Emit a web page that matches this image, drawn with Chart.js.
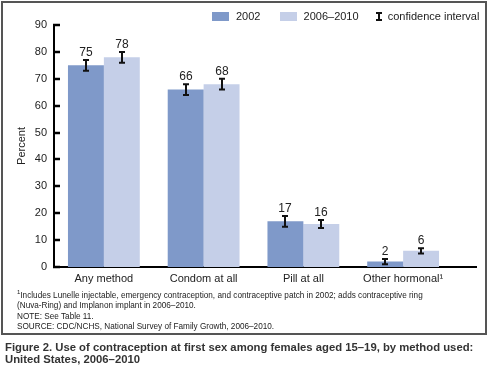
<!DOCTYPE html>
<html>
<head>
<meta charset="utf-8">
<script src="https://cdn.jsdelivr.net/npm/chart.js@4"></script>
<style>
  body { margin: 0; background: #fff; font-family: "Liberation Sans", Arial, sans-serif; color: #222; }
  #wrap { position: relative; width: 487px; height: 371px; }
  #frame { position: absolute; left: 1px; top: 1px; width: 482px; height: 330px; border: 2px solid #555; }
  #chart { position: absolute; left: 0; top: 0; }
  #legend { position: absolute; top: 9px; left: 212px; font-size: 11px; white-space: nowrap; }
  #legend span { display: inline-block; vertical-align: middle; }
  .sw { width: 17px; height: 9px; margin-right: 7px; }
  .ci { width: 2px; height: 9px; background: #111; position: relative; margin: 0 8px 0 4px; }
  .ci:before, .ci:after { content: ""; position: absolute; left: -2px; width: 6px; height: 2px; background: #111; }
  .ci:before { top: 0; } .ci:after { bottom: 0; }
  #notes { position: absolute; left: 17px; top: 287px; font-size: 8.2px; line-height: 10.4px; }
  #caption { position: absolute; left: 5px; top: 341px; font-size: 11.3px; line-height: 12px; font-weight: bold; color: #333; }
</style>
</head>
<body>
<div id="wrap">
  <div id="frame"></div>
  <canvas id="chart" width="487" height="300"></canvas>
  <div id="legend">
    <span class="sw" style="background:#7f99c9"></span><span style="margin-right:16px">2002</span>
    <span class="sw" style="background:#c5cfe8"></span><span style="margin-right:12px">2006–2010</span>
    <span class="ci"></span><span>confidence interval</span>
  </div>
  <div id="notes">
    <sup style="font-size:6px">1</sup>Includes Lunelle injectable, emergency contraception, and contraceptive patch in 2002; adds contraceptive ring<br>
    (Nuva-Ring) and Implanon implant in 2006–2010.<br>
    NOTE: See Table 11.<br>
    SOURCE: CDC/NCHS, National Survey of Family Growth, 2006–2010.
  </div>
  <div id="caption">
    Figure 2. Use of contraception at first sex among females aged 15–19, by method used:<br>
    United States, 2006–2010
  </div>
</div>
<script>
var categories = ['Any method', 'Condom at all', 'Pill at all', 'Other hormonal¹'];
var values2002 = [75, 66, 17, 2];
var values2010 = [78, 68, 16, 6];
var ciLow2002 = [73, 64, 15, 1];
var ciHigh2002 = [77, 68, 19, 3];
var ciLow2010 = [76, 66, 14.5, 5];
var ciHigh2010 = [80, 70, 17.5, 7];
var labels2002 = ['75', '66', '17', '2'];
var labels2010 = ['78', '68', '16', '6'];

var errorBars = {
  id: 'errorBars',
  afterDatasetsDraw: function(chart) {
    var ctx = chart.ctx;
    var y = chart.scales.y;
    var lows = [ciLow2002, ciLow2010];
    var highs = [ciHigh2002, ciHigh2010];
    var texts = [labels2002, labels2010];
    ctx.save();
    chart.data.datasets.forEach(function(ds, d) {
      var meta = chart.getDatasetMeta(d);
      meta.data.forEach(function(bar, i) {
        var x = Math.round(bar.x);
        var top = y.getPixelForValue(highs[d][i]);
        var bot = y.getPixelForValue(lows[d][i]);
        ctx.strokeStyle = '#111';
        ctx.lineWidth = 2;
        ctx.beginPath();
        ctx.moveTo(x, top); ctx.lineTo(x, bot);
        ctx.moveTo(x - 3, top); ctx.lineTo(x + 3, top);
        ctx.moveTo(x - 3, bot); ctx.lineTo(x + 3, bot);
        ctx.stroke();
        ctx.fillStyle = '#222';
        ctx.font = '12px "Liberation Sans", Arial, sans-serif';
        ctx.textAlign = 'center';
        ctx.textBaseline = 'alphabetic';
        ctx.fillText(texts[d][i], x, top - 4);
      });
    });
    // inward ticks on the y axis
    var left = chart.chartArea.left;
    ctx.strokeStyle = '#000';
    ctx.lineWidth = 2.5;
    y.ticks.forEach(function(t) {
      var py = Math.round(y.getPixelForValue(t.value));
      ctx.beginPath();
      ctx.moveTo(left - 1, py); ctx.lineTo(left + 6, py);
      ctx.stroke();
    });
    // x axis runs on past the last group
    var b = chart.chartArea.bottom;
    ctx.lineWidth = 2;
    ctx.beginPath();
    ctx.moveTo(chart.chartArea.right - 1, b); ctx.lineTo(chart.chartArea.right + 24, b);
    ctx.stroke();
    ctx.restore();
  }
};

new Chart(document.getElementById('chart').getContext('2d'), {
  type: 'bar',
  data: {
    labels: categories,
    datasets: [
      { label: '2002', data: values2002, backgroundColor: '#7f99c9' },
      { label: '2006–2010', data: values2010, backgroundColor: '#c5cfe8' }
    ]
  },
  options: {
    responsive: false,
    animation: false,
    devicePixelRatio: 1,
    categoryPercentage: 0.72,
    barPercentage: 1,
    layout: { padding: { top: 25, right: 34, left: 0, bottom: 13 } },
    plugins: { legend: { display: false }, tooltip: { enabled: false } },
    scales: {
      x: {
        grid: { display: false, drawTicks: false },
        border: { display: true, color: '#000', width: 2 },
        ticks: { color: '#222', font: { size: 11, family: '"Liberation Sans", Arial, sans-serif' }, padding: 5 },
        afterFit: function(s) { s.height = 20; }
      },
      y: {
        min: 0, max: 90,
        grid: { display: false, drawTicks: false },
        border: { display: true, color: '#000', width: 2 },
        ticks: { stepSize: 10, color: '#222', padding: 7, font: { size: 11, family: '"Liberation Sans", Arial, sans-serif' } },
        title: { display: true, text: 'Percent', color: '#222', padding: { top: 15, bottom: 0 }, font: { size: 11, family: '"Liberation Sans", Arial, sans-serif' } },
        afterFit: function(s) { s.width = 54; }
      }
    }
  },
  plugins: [errorBars]
});
</script>
</body>
</html>
